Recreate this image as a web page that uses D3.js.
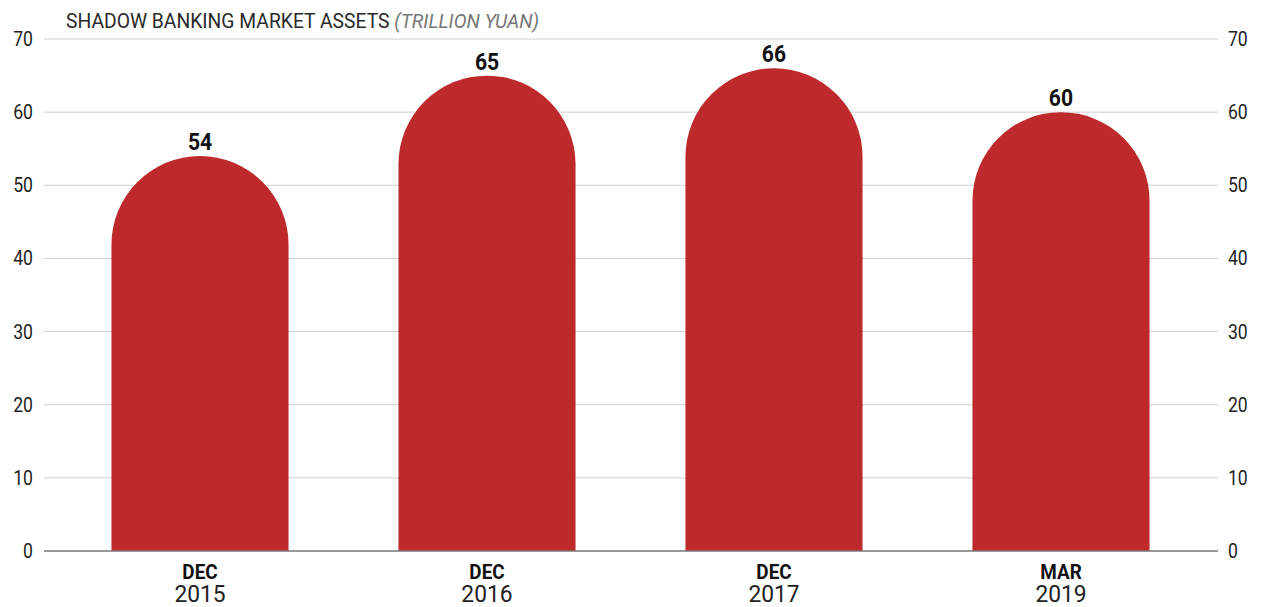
<!DOCTYPE html>
<html>
<head>
<meta charset="utf-8">
<script src="https://cdn.jsdelivr.net/npm/d3@7"></script>
<style>
  body { margin: 0; background: #fff; }
  svg text { font-family: Roboto, "Liberation Sans", sans-serif; }
</style>
</head>
<body>
<div id="chart"></div>
<script>
// chart values
const months = ["DEC", "DEC", "DEC", "MAR"];
const years = ["2015", "2016", "2017", "2019"];
const assets = [54, 65, 66, 60];
const yTicks = [0, 10, 20, 30, 40, 50, 60, 70];

const width = 1261, height = 607;
const svg = d3.select("#chart").append("svg")
  .attr("width", width).attr("height", height);

const x = d3.scaleBand()
  .domain(years)
  .range([56.5, 1204.5])
  .paddingInner(0.383)
  .paddingOuter(0.1915);
const y = d3.scaleLinear().domain([0, 70]).range([551, 39]);

// condensed look: squeeze text horizontally
function condensed(sel, k) {
  sel.attr("transform", function() {
    const ax = +d3.select(this).attr("x");
    return `translate(${ax},0) scale(${k},1) translate(${-ax},0)`;
  });
}

// gridlines
svg.append("g").selectAll("line")
  .data(yTicks.filter(d => d > 0))
  .join("line")
    .attr("x1", 44).attr("x2", 1218)
    .attr("y1", d => y(d)).attr("y2", d => y(d))
    .attr("stroke", "#cfcfcf").attr("stroke-width", 1);

// left and right tick labels
svg.append("g").selectAll("text")
  .data(yTicks).join("text")
    .attr("x", 33).attr("y", d => y(d) + 7)
    .attr("text-anchor", "end")
    .attr("font-size", "20px").attr("fill", "#222")
    .text(d => d)
    .call(condensed, 0.88);
svg.append("g").selectAll("text")
  .data(yTicks).join("text")
    .attr("x", 1228).attr("y", d => y(d) + 7)
    .attr("text-anchor", "start")
    .attr("font-size", "20px").attr("fill", "#222")
    .text(d => d)
    .call(condensed, 0.88);

// bars with round tops
const r = x.bandwidth() / 2;
svg.append("g").selectAll("path")
  .data(assets).join("path")
    .attr("d", (d, i) => {
      const x0 = x(years[i]), x1 = x0 + x.bandwidth();
      const top = y(d);
      return `M${x0},${y(0)} L${x0},${top + r} A${r},${r} 0 0 1 ${x1},${top + r} L${x1},${y(0)} Z`;
    })
    .attr("fill", "#be2a2b");

// baseline
svg.append("line")
  .attr("x1", 44).attr("x2", 1218)
  .attr("y1", y(0)).attr("y2", y(0))
  .attr("stroke", "#777").attr("stroke-width", 1.5);

// value labels
svg.append("g").selectAll("text")
  .data(assets).join("text")
    .attr("x", (d, i) => x(years[i]) + r)
    .attr("y", d => y(d) - 6)
    .attr("text-anchor", "middle")
    .attr("font-size", "24px").attr("font-weight", "bold").attr("fill", "#111")
    .text(d => d)
    .call(condensed, 0.88);

// category labels
svg.append("g").selectAll("text")
  .data(months).join("text")
    .attr("x", (d, i) => x(years[i]) + r)
    .attr("y", 579)
    .attr("text-anchor", "middle")
    .attr("font-size", "21px").attr("font-weight", "bold").attr("fill", "#111")
    .text(d => d)
    .call(condensed, 0.9);
svg.append("g").selectAll("text")
  .data(years).join("text")
    .attr("x", d => x(d) + r)
    .attr("y", 602)
    .attr("text-anchor", "middle")
    .attr("font-size", "24px").attr("fill", "#222")
    .text(d => d)
    .call(condensed, 0.95);

// title
const title = svg.append("text")
  .attr("x", 66).attr("y", 28)
  .attr("font-size", "21px").attr("fill", "#2a2a2a");
title.append("tspan").text("SHADOW BANKING MARKET ASSETS ");
title.append("tspan").attr("font-style", "italic").attr("fill", "#777").text("(TRILLION YUAN)");
title.call(condensed, 0.92);
</script>
</body>
</html>
